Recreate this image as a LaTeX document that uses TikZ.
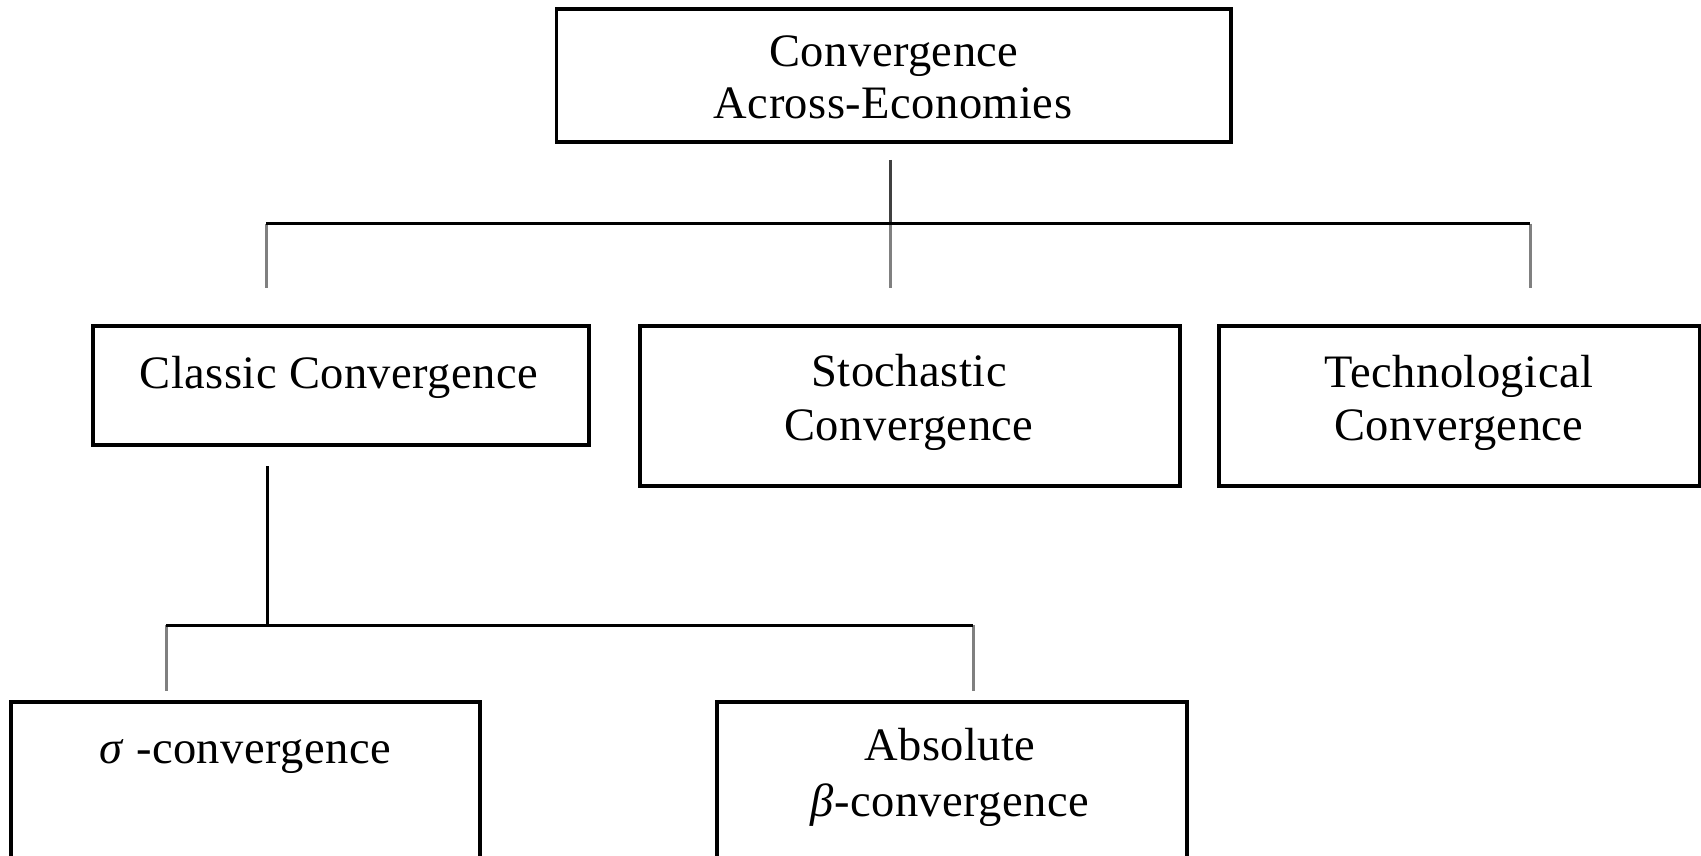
\documentclass[tikz,border=0pt]{standalone}
\usepackage{fontspec}
\setmainfont{Liberation Serif}[LetterSpace=1.0]
\begin{document}
\begin{tikzpicture}[x=1pt,y=-1pt,
  box/.style={draw=black, line width=3.2pt, rectangle, inner sep=0pt, outer sep=0pt},
  lbl/.style={inner sep=0pt, anchor=base, font=\fontsize{46.5}{52}\selectfont},
  hline/.style={line width=3pt, black},
  drop/.style={line width=3pt, color=black!50},
  darkdrop/.style={line width=3pt, color=black!75}]
\useasboundingbox (0,0) rectangle (1701,856);
\clip (0,0) rectangle (1701,856);
\fill[white] (0,0) rectangle (1701,856);
% boxes
\node[box, minimum width=674.5pt, minimum height=133pt] (top) at (893.8,75.5) {};
\node[box, minimum width=496pt, minimum height=119pt] (classic) at (341,385.5) {};
\node[box, minimum width=540pt, minimum height=160pt] (stoch) at (910,406) {};
\node[box, minimum width=480.5pt, minimum height=160pt] (tech) at (1459.25,406) {};
\node[box, minimum width=469pt, minimum height=198pt] (sigma) at (245.5,801) {};
\node[box, minimum width=470pt, minimum height=198pt] (absb) at (952,801) {};
% labels
\node[lbl] (topA) at (894,67) {Convergence};
\node[lbl] (topB) at (893,119) {Across-Economies};
\node[lbl] (classicA) at (339,388) {Classic Convergence};
\node[lbl] (stochA) at (909,386) {Stochastic};
\node[lbl] (stochB) at (909,440) {Convergence};
\node[lbl] (techA) at (1459,387) {Technological};
\node[lbl] (techB) at (1459,440) {Convergence};
\node[lbl] (sigmaA) at (245,763) {\textit{σ} -convergence};
\node[lbl] (absA) at (950,760) {Absolute};
\node[lbl] (absB) at (950,816) {\textit{β}-convergence};
% connector points
\coordinate (c0) at (890,160);
\coordinate (c1) at (890,223.5);
\coordinate (c2) at (890,288);
\coordinate (l1) at (266,223.5);
\coordinate (l2) at (266,288);
\coordinate (r1) at (1530,223.5);
\coordinate (r2) at (1530,288);
\coordinate (k0) at (267,466);
\coordinate (k1) at (267,625);
\coordinate (s1) at (166,625);
\coordinate (s2) at (166,691);
\coordinate (a1) at (973,625);
\coordinate (a2) at (973,691);
% connectors
\draw[darkdrop] (c0) -- (c1);
\draw[drop] (c1) -- (c2);
\draw[drop] (l1) -- (l2);
\draw[drop] (r1) -- (r2);
\draw[hline] (l1) -- (r1);
\draw[hline] (k0) -- (k1);
\draw[drop] (s1) -- (s2);
\draw[drop] (a1) -- (a2);
\draw[hline] (s1) -- (a1);
\end{tikzpicture}
\end{document}
